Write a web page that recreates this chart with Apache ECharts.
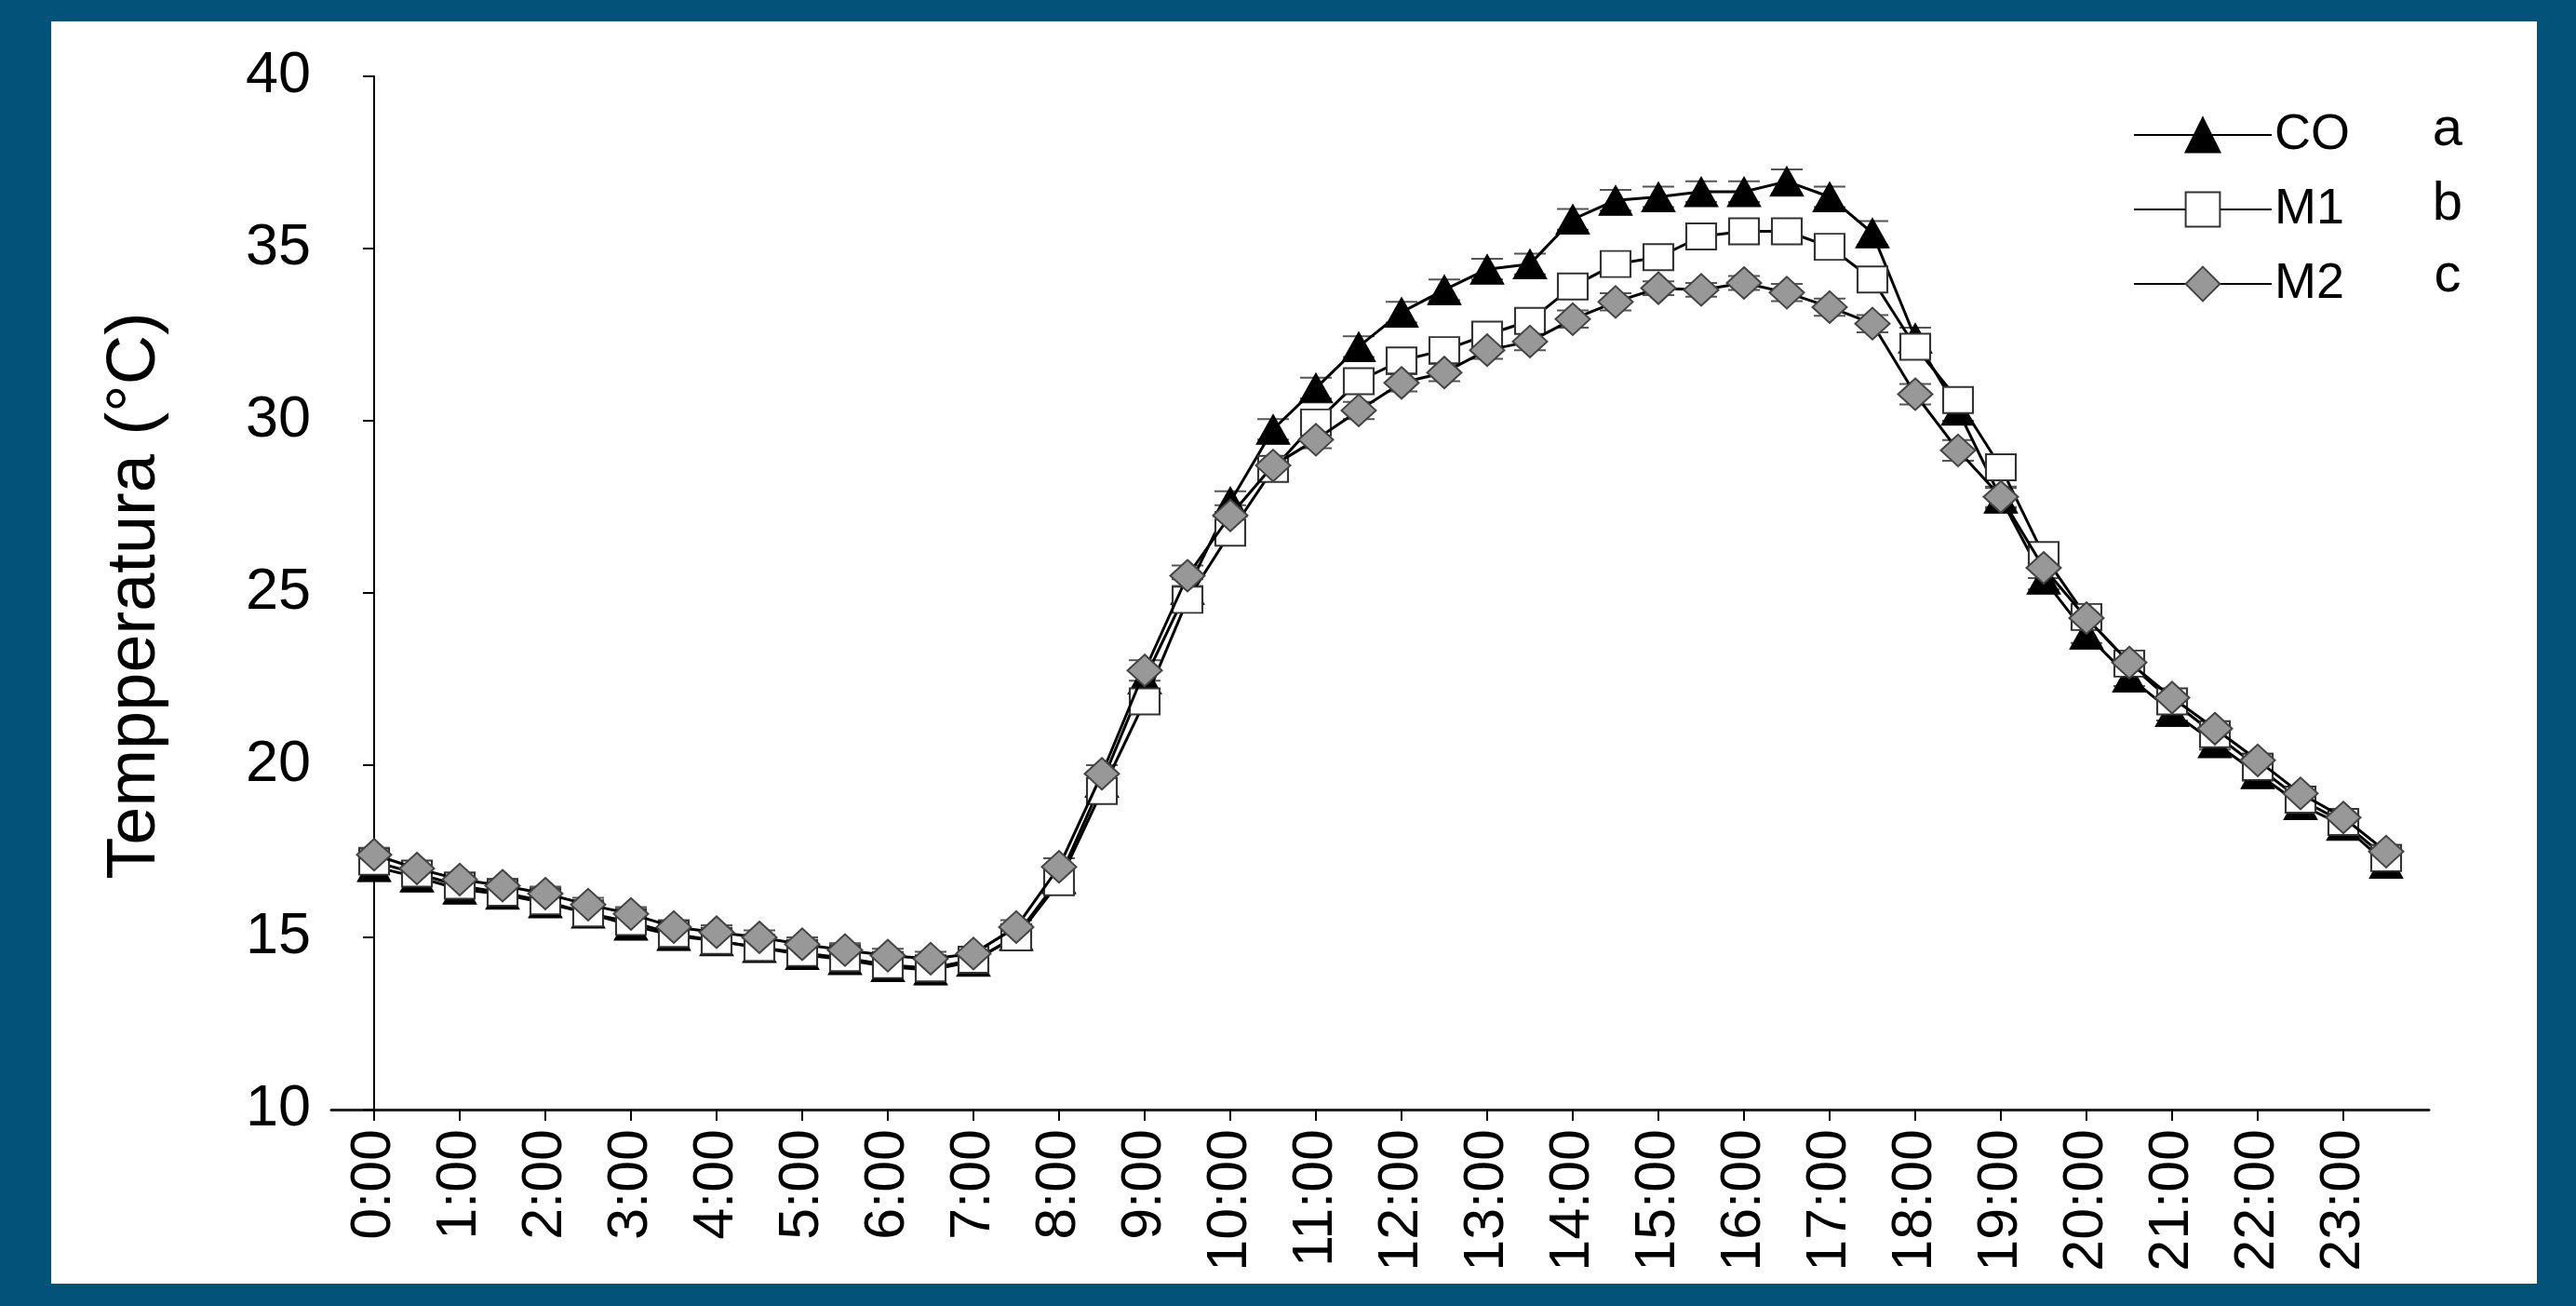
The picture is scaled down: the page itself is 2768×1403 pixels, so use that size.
<!DOCTYPE html>
<html>
<head>
<meta charset="utf-8">
<script src="https://cdn.jsdelivr.net/npm/echarts@6/dist/echarts.min.js"></script>
<style>
  html, body { margin: 0; padding: 0; width: 2768px; height: 1403px; background: #03527A; overflow: hidden; }
  #panel { position: absolute; left: 55px; top: 23px; width: 2671px; height: 1356px; background: #ffffff; }
  #chart { position: absolute; left: 0; top: 0; width: 2768px; height: 1403px; }
</style>
</head>
<body>
<div id="panel"></div>
<div id="chart"></div>
<script>
// ---- Data ----
const times = ['0:00','0:30','1:00','1:30','2:00','2:30','3:00','3:30','4:00','4:30','5:00','5:30',
  '6:00','6:30','7:00','7:30','8:00','8:30','9:00','9:30','10:00','10:30','11:00','11:30',
  '12:00','12:30','13:00','13:30','14:00','14:30','15:00','15:30','16:00','16:30','17:00','17:30',
  '18:00','18:30','19:00','19:30','20:00','20:30','21:00','21:30','22:00','22:30','23:00','23:30'];

const hourLabels = ['0:00','1:00','2:00','3:00','4:00','5:00','6:00','7:00','8:00','9:00','10:00','11:00',
  '12:00','13:00','14:00','15:00','16:00','17:00','18:00','19:00','20:00','21:00','22:00','23:00'];

const seriesNames = ['CO', 'M1', 'M2'];
const groupLetters = ['a', 'b', 'c'];

const coValues = [17.05,16.75,16.4,16.25,16.0,15.7,15.35,15.05,14.9,14.7,14.5,14.35,
  14.15,14.05,14.3,15.05,16.7,19.5,22.5,25.1,27.65,29.75,30.95,32.15,
  33.15,33.8,34.4,34.55,35.85,36.4,36.5,36.65,36.65,36.95,36.5,35.45,
  32.4,30.3,27.75,25.4,23.8,22.55,21.55,20.65,19.75,18.85,18.25,17.15];

const m1Values = [17.2,16.85,16.5,16.3,16.05,15.7,15.45,15.1,14.9,14.7,14.55,14.4,
  14.2,14.1,14.35,15.0,16.6,19.25,21.85,24.8,26.75,28.6,29.95,31.15,
  31.75,32.05,32.5,32.9,33.9,34.55,34.75,35.35,35.5,35.5,35.05,34.1,
  32.15,30.6,28.65,26.1,24.3,22.95,21.85,20.9,19.95,19.0,18.35,17.3];

const m2Values = [17.4,17.0,16.68,16.5,16.27,15.95,15.68,15.3,15.15,15.0,14.8,14.63,
  14.47,14.38,14.53,15.3,17.05,19.75,22.75,25.5,27.25,28.7,29.45,30.3,
  31.1,31.4,32.05,32.3,32.95,33.45,33.85,33.8,34.0,33.72,33.3,32.82,
  30.77,29.14,27.79,25.73,24.27,22.98,21.96,21.06,20.14,19.18,18.48,17.49];

const coErr = [0.2,0.2,0.2,0.2,0.2,0.2,0.2,0.2,0.2,0.2,0.2,0.2,
  0.2,0.2,0.2,0.2,0.25,0.3,0.3,0.3,0.3,0.3,0.3,0.3,
  0.3,0.3,0.3,0.3,0.3,0.3,0.3,0.3,0.3,0.35,0.3,0.35,
  0.3,0.3,0.3,0.3,0.25,0.25,0.25,0.2,0.2,0.2,0.2,0.2];

const m1Err = [0.2,0.2,0.2,0.2,0.2,0.2,0.2,0.2,0.2,0.2,0.2,0.2,
  0.2,0.2,0.2,0.2,0.25,0.25,0.3,0.3,0.3,0.3,0.3,0.3,
  0.3,0.3,0.3,0.3,0.3,0.3,0.3,0.3,0.3,0.3,0.3,0.3,
  0.3,0.3,0.3,0.25,0.25,0.25,0.2,0.2,0.2,0.2,0.2,0.2];

const m2Err = [0.2,0.2,0.2,0.2,0.2,0.2,0.2,0.2,0.2,0.2,0.2,0.2,
  0.2,0.2,0.2,0.2,0.25,0.25,0.3,0.3,0.3,0.25,0.25,0.25,
  0.25,0.25,0.25,0.25,0.25,0.25,0.2,0.2,0.2,0.25,0.25,0.25,
  0.3,0.3,0.3,0.3,0.25,0.25,0.2,0.2,0.2,0.2,0.2,0.2];

const yTicks = [10, 15, 20, 25, 30, 35, 40];

// ---- Build chart ----
const FONT = "'Liberation Sans', Arial, sans-serif";
function toHour(t) { const p = t.split(':'); return Number(p[0]) + Number(p[1]) / 60; }
const hourValues = hourLabels.map(toHour);

const valuesList = [coValues, m1Values, m2Values];
const errList = [coErr, m1Err, m2Err];
const symbols = [
  { symbol: 'triangle', size: [36, 32], itemStyle: { color: '#000000', borderColor: '#000000', borderWidth: 1 } },
  { symbol: 'rect', size: [32, 28], itemStyle: { color: '#ffffff', borderColor: '#333333', borderWidth: 2 } },
  { symbol: 'diamond', size: [37, 34], itemStyle: { color: '#989898', borderColor: '#444444', borderWidth: 2 } }
];

function renderErr(params, api) {
  const x = api.value(0), y = api.value(1), e = api.value(2);
  const hi = api.coord([x, y + e]);
  const lo = api.coord([x, y - e]);
  const w = 17;
  const st = { stroke: '#555555', lineWidth: 2 };
  return {
    type: 'group',
    children: [
      { type: 'line', shape: { x1: hi[0], y1: hi[1], x2: lo[0], y2: lo[1] }, style: st },
      { type: 'line', shape: { x1: hi[0] - w, y1: hi[1], x2: hi[0] + w, y2: hi[1] }, style: st },
      { type: 'line', shape: { x1: lo[0] - w, y1: lo[1], x2: lo[0] + w, y2: lo[1] }, style: st }
    ]
  };
}

const series = [];
seriesNames.forEach(function (name, k) {
  series.push({
    type: 'custom',
    name: name + ' err',
    renderItem: renderErr,
    z: 1,
    silent: true,
    encode: { x: 0, y: 1 },
    data: times.map(function (t, i) { return [toHour(t), valuesList[k][i], errList[k][i]]; })
  });
});
seriesNames.forEach(function (name, k) {
  series.push({
    type: 'line',
    name: name,
    z: 2 + k,
    showAllSymbol: true,
    symbol: symbols[k].symbol,
    symbolSize: symbols[k].size,
    itemStyle: symbols[k].itemStyle,
    lineStyle: { color: '#000000', width: 3 },
    data: times.map(function (t, i) { return [toHour(t), valuesList[k][i]]; })
  });
});

const graphics = [
  {
    type: 'text', x: 146, y: 640, rotation: Math.PI / 2,
    style: { text: 'Tempperatura (°C)', font: '74px ' + FONT, fill: '#000', textAlign: 'center', textVerticalAlign: 'middle' }
  }
];
const rowY = [140, 220, 297];
groupLetters.forEach(function (l, k) {
  graphics.push({
    type: 'text', x: 2630, y: rowY[k],
    style: { text: l, font: '58px ' + FONT, fill: '#000', textAlign: 'center', textVerticalAlign: 'middle' }
  });
});

const chart = echarts.init(document.getElementById('chart'), null, { renderer: 'canvas' });
chart.setOption({
  animation: false,
  backgroundColor: 'transparent',
  textStyle: { fontFamily: FONT },
  grid: { left: 356, top: 82, right: 158, bottom: 211, containLabel: false },
  legend: {
    data: seriesNames,
    orient: 'vertical',
    left: 2287,
    top: 113,
    itemWidth: 148,
    itemHeight: 46,
    itemGap: 26,
    textStyle: { color: '#000', fontSize: 54, fontFamily: FONT, padding: [0, 0, 0, -2] },
    selectedMode: false
  },
  xAxis: {
    type: 'value',
    min: -0.5,
    max: 24,
    axisLine: { show: true, lineStyle: { color: '#222', width: 3 } },
    axisTick: { show: true, inside: false, length: 12, lineStyle: { color: '#000', width: 2 }, customValues: hourValues },
    axisLabel: {
      customValues: hourValues,
      rotate: 90,
      margin: 21,
      fontSize: 61,
      color: '#000',
      fontFamily: FONT,
      formatter: function (v) { const idx = hourValues.indexOf(v); return idx >= 0 ? hourLabels[idx] : ''; }
    },
    splitLine: { show: false }
  },
  yAxis: {
    type: 'value',
    min: yTicks[0],
    max: yTicks[yTicks.length - 1],
    interval: yTicks[1] - yTicks[0],
    axisLine: { show: true, lineStyle: { color: '#000', width: 2 } },
    axisTick: { show: true, inside: false, length: 12, lineStyle: { color: '#000', width: 2 } },
    axisLabel: { margin: 22, fontSize: 63, color: '#000', fontFamily: FONT },
    splitLine: { show: false }
  },
  graphic: graphics,
  series: series
});
</script>
</body>
</html>
